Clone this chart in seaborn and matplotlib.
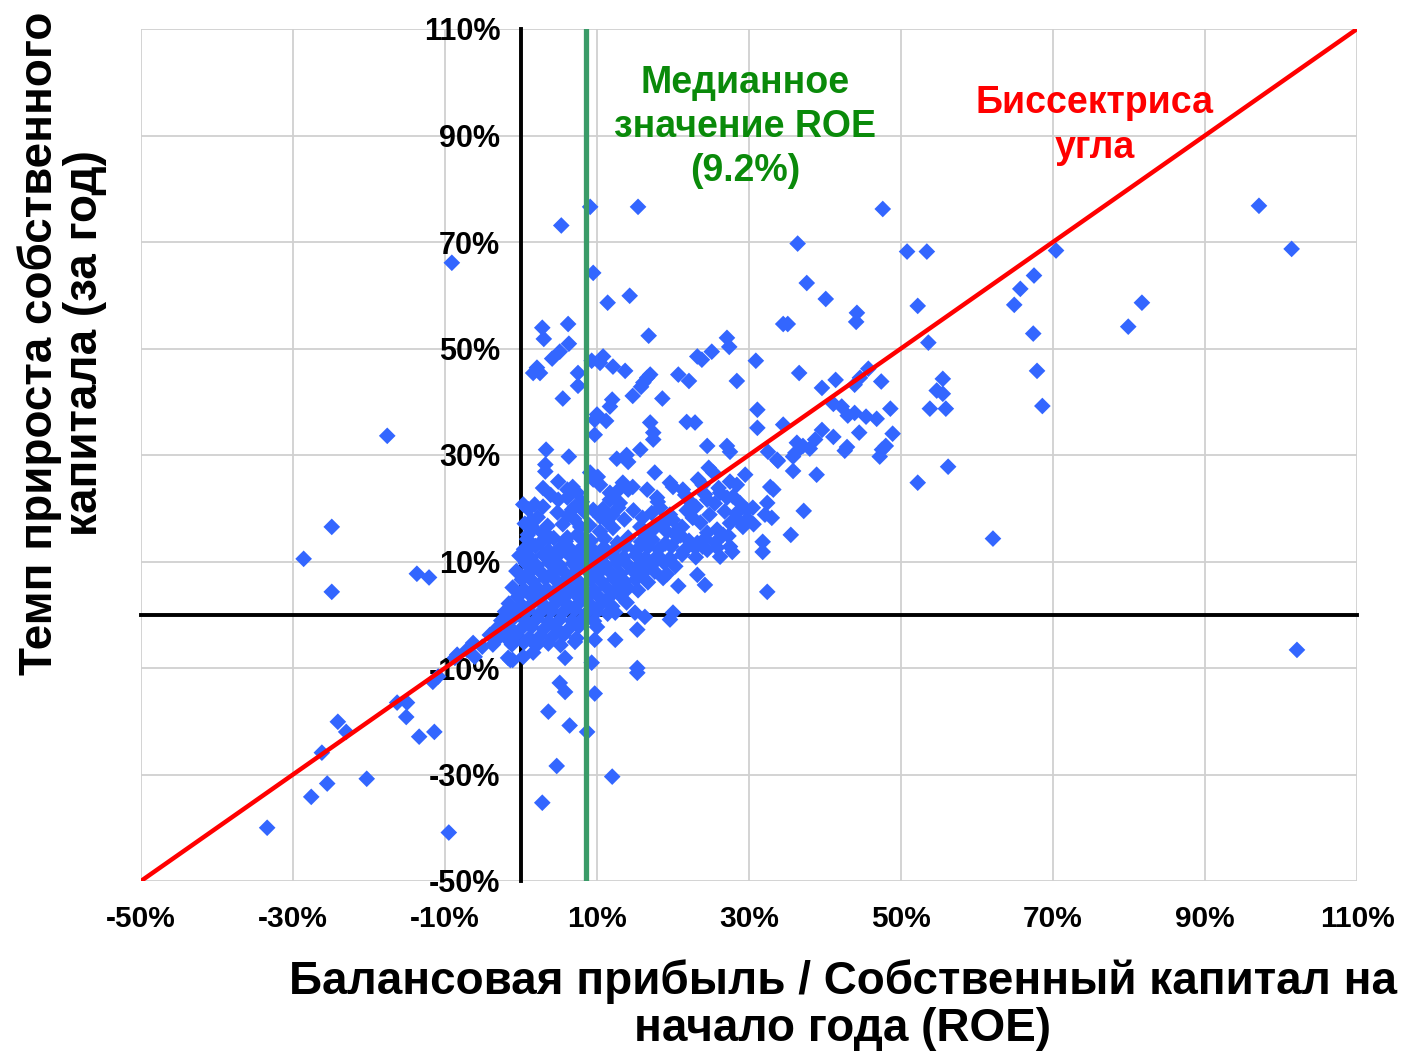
import matplotlib
matplotlib.use("Agg")
import matplotlib.pyplot as plt
import seaborn as sns
import pandas as pd
from matplotlib.ticker import FuncFormatter

# ---------------- data (percent) ----------------
outlier_x = [97.1, 101.4, 102.1, 81.7, 79.9, 70.4, 67.5, 65.7, 64.9, 67.4, 67.9, 68.6, 62.1,
             50.8, 53.4, 52.2, 53.6, 55.5, 54.7, 55.5, 53.8, 55.9, 56.2, 52.2, 47.6,
             36.4, 37.6, 40.1, 44.2, 44.1, 34.5, 35.1, 36.6, 39.6, 41.4, 43.9, 44.6, 45.7, 47.4,
             41.1, 42.2, 43.0, 43.9, 45.4, 46.8, 48.6, 48.9, 47.5, 47.2, 48.0, 44.5, 41.1, 39.6,
             38.7, 36.3, 37.1, 38.0, 42.9, 42.6, 35.8, 36.1, 33.8, 35.8, 38.9, 34.5, 31.1, 31.1,
             30.9, 28.4, 27.1, 27.4, 25.1, 23.8, 23.2]
outlier_y = [76.8, 68.7, -6.6, 58.6, 54.1, 68.4, 63.7, 61.2, 58.2, 52.8, 45.8, 39.2, 14.3,
             68.2, 68.2, 58.0, 51.1, 44.3, 42.1, 41.5, 38.7, 38.7, 27.8, 24.8, 76.2,
             69.7, 62.3, 59.3, 56.7, 55.0, 54.6, 54.6, 45.4, 42.6, 44.1, 43.2, 44.5, 46.2, 43.8,
             39.6, 39.1, 37.4, 37.9, 37.2, 36.8, 38.7, 34.0, 31.0, 29.7, 31.7, 34.2, 33.4, 34.7,
             32.9, 32.3, 31.7, 31.2, 31.5, 30.8, 29.7, 30.4, 28.9, 27.0, 26.3, 35.7, 35.1, 38.5,
             47.7, 43.9, 52.0, 50.3, 49.4, 47.9, 48.5]

upper_x = [9.5, 9.1, 15.4, 5.3, -9.1, 11.4, 14.3, 2.8, 6.2, 3.0, 6.3, 5.1, 4.1, 16.8, 20.7, 22.1,
           2.1, 1.6, 2.5, 7.5, 7.5, 5.5, 9.3, 10.4, 10.8, 12.1, 13.7, 17.0, 16.6, 16.1, 15.8, 14.7,
           18.6, 12.0, 11.7, 10.0, 9.7, 11.2, 17.0, 21.8, 22.9, 9.7, 17.4, 17.4, 3.3, 6.3, 15.7,
           24.5, 27.1, 27.5, 32.5, 33.7, 12.6, 13.9, 14.1, 3.2, 3.2, 24.7, 25.3, 29.5, 17.6, 32.8,
           33.2, 23.3, 23.9, 27.5, 28.4, 19.6, 20.0, 2.9, 4.9, 6.1, 6.8, 7.4, 9.1, 9.5, 10.1, 10.4,
           11.7, 12.6, 13.4, 14.1, 14.7, 16.6, 17.9, 21.3, 21.6, 24.5, 26.2, 27.1, 27.9, 28.8,
           29.7, 30.5, 32.4, 32.1, 33.0, 0.3, 1.8, 2.9, 4.9, 6.1, 7.1, 6.7, 9.5, 10.4, 11.7, 13.0,
           12.8, 18.0, 18.3, 6.2, 1.4, 1.6, 7.8, 7.4, 2.8, 3.8, 11.3, 10.4, 12.1, 15.7, 16.3, 17.4,
           20.0, 21.2, 22.6, 23.6, 24.5, 25.8, 26.6, 28.6, 29.2, 23.2, 23.9, 25.8, 26.2, 27.8, 27.5,
           31.8, 31.8, 35.5, 37.2, 0.9, 1.2, 6.1, 4.5, 1.2, 5.1, 23.2, 24.2, 20.7, 18.7, 32.4]
upper_y = [64.2, 76.6, 76.6, 73.1, 66.1, 58.6, 59.9, 53.9, 54.6, 51.8, 50.9, 49.4, 48.1, 52.4,
           45.1, 43.9, 46.4, 45.4, 45.4, 45.4, 43.0, 40.6, 47.7, 47.3, 48.5, 46.6, 45.8, 45.1,
           44.5, 43.6, 42.8, 41.1, 40.6, 40.4, 39.1, 37.6, 36.6, 36.4, 36.1, 36.2, 36.1, 33.8,
           34.2, 32.9, 31.0, 29.7, 31.0, 31.7, 31.7, 30.6, 30.6, 29.1, 29.3, 30.0, 28.7, 28.2,
           26.9, 27.6, 26.7, 26.3, 26.7, 24.0, 23.5, 25.4, 24.4, 25.0, 24.4, 24.8, 24.0, 23.8,
           25.0, 23.5, 24.0, 22.9, 26.7, 25.4, 25.9, 24.4, 22.9, 23.1, 24.8, 23.5, 24.0, 23.5,
           22.0, 23.5, 22.5, 21.6, 22.9, 22.0, 22.2, 21.0, 19.7, 20.1, 21.0, 18.8, 18.2, 20.7,
           20.7, 20.3, 21.6, 22.0, 20.3, 19.7, 19.7, 18.4, 21.6, 21.0, 20.1, 21.2, 20.1, 18.6,
           17.8, 16.3, 16.5, 15.0, 15.4, 14.5, 17.5, 15.6, 16.3, 16.5, 15.0, 16.0, 17.8, 16.5,
           18.2, 17.3, 15.4, 16.0, 15.0, 17.8, 16.5, 13.5, 12.8, 12.6, 10.9, 11.8, 12.8, 13.7,
           11.8, 15.0, 19.5, 15.0, 12.8, 14.5, 10.9, 8.8, 8.8, 7.5, 5.6, 5.4, 6.9, 4.3]

lower_x = [12.4, 13.9, 15.0, 16.3, 20.0, 19.6, 15.3, 12.4, 10.0, 9.7, 7.1, 5.8, 1.6, 0.3, -1.1,
           -1.7, 9.3, 15.3, 15.3, 5.1, 5.8, 9.7, 3.6, 6.4, 8.7, 4.7, 12.0, 2.8,
           -17.6, -24.9, -28.6, -24.9, -13.7, -12.1, -1.1, -6.3, -5.1, -4.1, -3.7, -2.8, -1.7,
           -7.1, -8.4, -8.7, -6.1, -1.4, -10.9, -11.6, -16.3, -15.0, -15.1, -13.4, -11.4, -24.1,
           -23.0, -26.2, -25.5, -27.6, -20.3, -33.4, -9.5]
lower_y = [0.4, 2.3, 0.4, -0.4, 0.4, -0.9, -2.8, -4.7, -2.3, -4.7, -5.1, -8.1, -7.1, -7.9, -8.5,
           -8.1, -9.0, -10.0, -10.9, -12.8, -14.5, -14.8, -18.2, -20.8, -22.0, -28.4, -30.4, -35.3,
           33.6, 16.5, 10.5, 4.3, 7.7, 7.0, 1.3, -5.3, -6.0, -3.8, -5.6, -4.1, -2.3,
           -6.6, -7.5, -8.1, -7.9, -8.5, -11.6, -12.6, -16.5, -16.5, -19.2, -22.9, -22.0, -20.1,
           -22.0, -25.9, -31.7, -34.2, -30.8, -40.0, -40.9]

core_x = [0.8, 2.6, 4.3, 5.9, 7.8, 9.2, 11.0, 12.7, 14.1, 15.8, 17.3, 19.0, 20.6, 22.1, 24.2, 25.6, 27.3,
          0.4, 1.9, 3.6, 5.2, 6.6, 8.1, 9.6, 10.9, 12.3, 13.8, 15.2, 16.7, 18.1, 19.8, 21.4, 22.9, 24.5,
          -0.2, 1.3, 2.9, 4.6, 6.2, 7.6, 9.1, 10.4, 12.0, 13.5, 15.1, 16.4, 18.0, 19.6, 21.2, 23.0,
          0.6, 2.1, 3.7, 5.1, 6.8, 8.2, 9.7, 11.1, 12.6, 14.2, 15.7, 17.2, 18.8, 20.3,
          -0.6, 1.0, 2.4, 4.0, 5.6, 7.1, 8.6, 10.2, 11.6, 13.1, 14.7, 16.1, 17.6, 19.2,
          0.1, 1.6, 3.2, 4.7, 6.1, 7.7, 9.2, 10.6, 12.2, 13.6, 15.1, 16.7,
          -1.1, 0.4, 2.0, 3.4, 5.0, 6.6, 8.1, 9.6, 11.2, 12.6, 14.1, 15.4,
          -0.4, 1.2, 2.6, 4.1, 5.7, 7.2, 8.7, 10.1, 11.6, 13.0,
          -1.6, 0.1, 1.6, 3.1, 4.6, 6.2, 7.7, 9.1, 10.6, 12.0,
          -2.1, -0.6, 0.9, 2.4, 4.0, 5.5, 7.1, 8.6, 10.0, 11.4,
          -2.6, -1.1, 0.6, 2.1, 3.6, 5.1, 6.7, 8.2, 9.6,
          -3.2, -1.6, -0.1, 1.4, 3.0, 4.6, 6.1, 7.6,
          -2.1, -0.6, 1.1, 2.6, 4.1, 5.6, 7.3,
          -1.2, 0.4, 2.0, 3.6, 5.2,
          0.5, 2.2, 3.5, 4.8, 5.5, 7.0, 8.3, 9.0, 8.0, 3.9, 1.0, 10.8, 12.0, 13.6, 14.8, 16.0,
          17.2, 18.8, 19.6,
          20.5, 21.8, 23.0, 24.8, 25.5, 26.8, 27.5, 28.3, 29.8, 30.6, 26.0, 24.2, 22.4, 19.2,
          18.4, 21.0]
core_y = [14.2, 13.6, 14.4, 13.8, 14.6, 13.9, 14.3, 13.5, 14.5, 13.7, 14.1, 13.4, 14.6, 13.9, 14.3, 13.6, 14.8,
          12.3, 12.9, 12.1, 12.7, 12.2, 12.8, 12.0, 12.6, 12.2, 12.9, 12.1, 12.7, 12.3, 12.8, 12.0, 12.6, 12.2,
          11.1, 10.7, 11.3, 10.8, 11.4, 10.9, 11.2, 10.6, 11.3, 10.8, 11.2, 10.7, 11.1, 10.6, 11.3, 10.8,
          9.7, 9.2, 9.8, 9.3, 9.6, 9.1, 9.8, 9.4, 9.7, 9.2, 9.6, 9.3, 9.8, 9.1,
          8.2, 7.8, 8.3, 7.7, 8.1, 7.9, 8.4, 7.8, 8.2, 7.7, 8.3, 7.9, 8.1, 7.6,
          6.6, 6.2, 6.8, 6.3, 6.7, 6.1, 6.6, 6.2, 6.8, 6.3, 6.6, 6.1,
          5.1, 4.7, 5.3, 4.8, 5.2, 4.7, 5.1, 4.6, 5.2, 4.8, 5.0, 4.6,
          3.4, 3.7, 3.2, 3.6, 3.3, 3.8, 3.2, 3.6, 3.3, 3.7,
          2.1, 1.8, 2.3, 1.7, 2.2, 1.8, 2.3, 1.9, 2.1, 1.6,
          0.6, 0.3, 0.8, 0.2, 0.7, 0.4, 0.9, 0.3, 0.6, 0.2,
          -1.1, -0.8, -1.2, -0.7, -1.3, -0.9, -1.1, -0.6, -1.2,
          -2.6, -2.2, -2.8, -2.3, -2.7, -2.4, -2.9, -2.2,
          -4.1, -3.7, -4.3, -3.9, -4.2, -3.8, -4.4,
          -5.6, -5.2, -5.8, -5.4, -5.7,
          17.1, 18.3, 16.7, 19.2, 17.0, 18.0, 19.4, 16.8, 21.2, 22.5, 19.8, 19.9, 18.7, 17.9, 19.6, 18.2,
          19.1, 17.0, 18.8,
          15.8, 19.6, 20.3, 18.8, 20.9, 19.4, 17.2, 19.0, 18.0, 17.0, 23.8, 22.6, 21.0, 15.6,
          16.9, 14.9]

roe = outlier_x + upper_x + lower_x + core_x
growth = outlier_y + upper_y + lower_y + core_y
df = pd.DataFrame({"roe": roe, "growth": growth})

axis_limits = [-50, 110]
tick_values = [-50, -30, -10, 10, 30, 50, 70, 90, 110]
median_line_x = 8.5

# ---------------- styling ----------------
sns.set_theme(style="white")
plt.rcParams["font.family"] = ["Liberation Sans", "DejaVu Sans"]
plt.rcParams["font.weight"] = "bold"
plt.rcParams["text.color"] = "black"
plt.rcParams["axes.labelcolor"] = "black"
plt.rcParams["xtick.color"] = "black"
plt.rcParams["ytick.color"] = "black"

fig = plt.figure(figsize=(14.06, 10.57), dpi=100)
ax = fig.add_axes([141 / 1406, 1 - 881 / 1057, 1216 / 1406, 852 / 1057])

sns.scatterplot(data=df, x="roe", y="growth", ax=ax, marker="D", s=72,
                color="#3366FF", edgecolor="none", linewidth=0, zorder=3)

ax.plot(axis_limits, axis_limits, color="#FF0000", lw=3.2, zorder=5, solid_capstyle="butt")
ax.axvline(median_line_x, color="#3A9B68", lw=3.8, zorder=4)

ax.set_xlim(axis_limits)
ax.set_ylim(axis_limits)
ax.set_xticks(tick_values)
ax.set_yticks(tick_values)
ax.grid(True, color="#D0D0D0", lw=1.3)
ax.set_axisbelow(True)

for side in ["top", "right"]:
    ax.spines[side].set_visible(False)
for side in ["left", "bottom"]:
    ax.spines[side].set_position(("data", 0))
    ax.spines[side].set_color("black")
    ax.spines[side].set_linewidth(2.8)
    ax.spines[side].set_zorder(2.6)

pct = FuncFormatter(lambda v, p: f"{v:.0f}%")
ax.yaxis.set_major_formatter(pct)
ax.tick_params(axis="both", direction="inout", length=12, width=2.4, color="black")
ax.tick_params(axis="y", labelsize=22, pad=9, labelcolor="black")
ax.tick_params(axis="x", labelbottom=False)
for lab in ax.get_yticklabels():
    lab.set_fontweight("bold")

sec = ax.secondary_xaxis("bottom")
sec.set_xticks(tick_values)
sec.xaxis.set_major_formatter(pct)
sec.tick_params(length=0, labelsize=21.5, pad=17, labelcolor="black")
sec.spines["bottom"].set_visible(False)
for lab in sec.get_xticklabels():
    lab.set_fontweight("bold")
ax.set_xlabel("")
ax.set_ylabel("")

ax.text(29.5, 91.6, "Медианное\nзначение ROE\n(9.2%)", color="#0A8A0A", fontsize=27,
        fontweight="bold", ha="center", va="center", linespacing=1.3, zorder=6)
ax.text(75.5, 91.9, "Биссектриса\nугла", color="#FF0000", fontsize=27,
        fontweight="bold", ha="center", va="center", linespacing=1.3, zorder=6)

fig.text(843 / 1406, 1 - 1005 / 1057, "Балансовая прибыль / Собственный капитал на\nначало года (ROE)",
         ha="center", va="center", fontsize=33, fontweight="bold", linespacing=1.1, color="black")
fig.text(62 / 1406, 1 - 343 / 1057, "Темп прироста собственного\nкапитала (за год)",
         ha="center", va="center", fontsize=33, fontweight="bold", rotation=90, linespacing=1.05,
         color="black")

fig.savefig("out.png", dpi=100, facecolor="white")
